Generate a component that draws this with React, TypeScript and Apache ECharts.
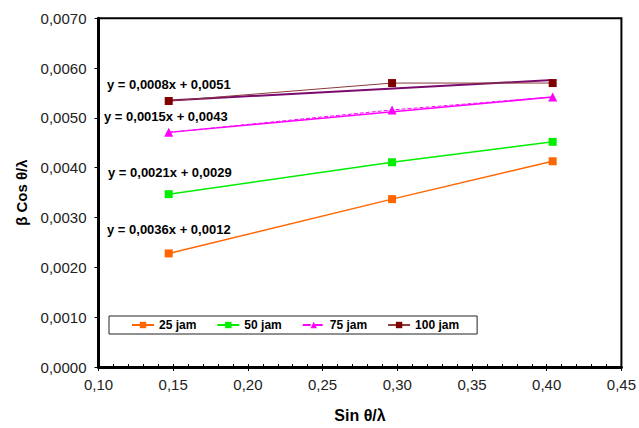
import React, { useEffect, useRef } from "react";
import * as echarts from "echarts";

const xValues = [0.147, 0.2965, 0.404];
const jam25 = [0.00228, 0.00337, 0.00413];
const jam50 = [0.00347, 0.00411, 0.00452];
const jam75 = [0.00471, 0.00516, 0.00542];
const jam100 = [0.00534, 0.0057, 0.0057];
const trendX = [0.147, 0.404];
const trend75 = [0.00471, 0.00542];
const trend100 = [0.00535, 0.00576];
const seriesNames = ["25 jam", "50 jam", "75 jam", "100 jam"];
const equations = [
  "y = 0,0008x + 0,0051",
  "y = 0,0015x + 0,0043",
  "y = 0,0021x + 0,0029",
  "y = 0,0036x + 0,0012",
];

const FONT = "'Liberation Sans', Arial, sans-serif";

function pairs(xs: number[], ys: number[]) {
  return ys.map((y, i) => [xs[i], y]);
}

export default function App() {
  const ref = useRef<HTMLDivElement>(null);
  useEffect(() => {
    if (!ref.current) return;
    const chart = echarts.init(ref.current, undefined, { renderer: "svg" });
    const eqPos = [
      [107, 86],
      [104, 118],
      [108, 174],
      [107, 231],
    ];
    const option: any = {
      animation: false,
      backgroundColor: "#fff",
      textStyle: { fontFamily: FONT },
      grid: {
        left: 98.5,
        right: 15.5,
        top: 18.3,
        bottom: 56.3,
        show: true,
        borderColor: "#000",
        borderWidth: 2,
      },
      legend: {
        left: 109,
        top: 316,
        orient: "horizontal",
        data: seriesNames,
        borderColor: "#222",
        borderWidth: 1,
        borderRadius: 0,
        padding: [3, 18, 3, 22],
        itemWidth: 22,
        itemHeight: 8,
        itemGap: 20,
        textStyle: { fontFamily: FONT, fontWeight: "bold", fontSize: 12, color: "#000" },
      },
      xAxis: [
        {
          type: "value",
          min: 0.1,
          max: 0.45,
          interval: 0.05,
          name: "Sin θ/λ",
          nameLocation: "middle",
          nameGap: 40,
          nameTextStyle: { fontFamily: FONT, fontWeight: "bold", fontSize: 16, color: "#000" },
          axisLine: { show: true, onZero: false, lineStyle: { color: "#000", width: 3 } },
          axisTick: { show: true, inside: false, length: 4, lineStyle: { color: "#000", width: 1 } },
          axisLabel: {
            fontFamily: FONT,
            fontSize: 15,
            color: "#222",
            margin: 10,
            formatter: (v: number) => v.toFixed(2).replace(".", ","),
          },
          splitLine: { show: false },
        },
        {
          type: "value",
          min: 0.1,
          max: 0.45,
          interval: 0.01,
          position: "bottom",
          axisLine: { show: false },
          axisTick: { show: true, inside: true, length: 3, lineStyle: { color: "#000", width: 1 } },
          axisLabel: { show: false },
          splitLine: { show: false },
        },
      ],
      yAxis: {
        type: "value",
        min: 0,
        max: 0.007,
        interval: 0.001,
        name: "β Cos θ/λ",
        nameLocation: "middle",
        nameRotate: 90,
        nameGap: 70,
        nameTextStyle: { fontFamily: FONT, fontWeight: "bold", fontSize: 15, color: "#000" },
        axisLine: { show: true, onZero: false, lineStyle: { color: "#000", width: 3 } },
        axisTick: { show: true, inside: false, length: 4, lineStyle: { color: "#000", width: 1 } },
        axisLabel: {
          fontFamily: FONT,
          fontSize: 15,
          color: "#222",
          margin: 12,
          formatter: (v: number) => v.toFixed(4).replace(".", ","),
        },
        splitLine: { show: false },
      },
      series: [
        {
          name: "75 jam trend",
          type: "line",
          data: pairs(trendX, trend75),
          symbol: "none",
          lineStyle: { color: "#ff00ff", width: 1.5 },
          z: 1,
        },
        {
          name: "100 jam trend",
          type: "line",
          data: pairs(trendX, trend100),
          symbol: "none",
          lineStyle: { color: "#7a0a6e", width: 2 },
          z: 1,
        },
        {
          name: seriesNames[0],
          type: "line",
          data: pairs(xValues, jam25),
          symbol: "rect",
          symbolSize: 8,
          itemStyle: { color: "#ff6600" },
          lineStyle: { color: "#ff6600", width: 1.5 },
          z: 3,
        },
        {
          name: seriesNames[1],
          type: "line",
          data: pairs(xValues, jam50),
          symbol: "rect",
          symbolSize: 8,
          itemStyle: { color: "#00ee00" },
          lineStyle: { color: "#00ee00", width: 1.5 },
          z: 3,
        },
        {
          name: seriesNames[2],
          type: "line",
          data: pairs(xValues, jam75),
          symbol: "triangle",
          symbolSize: 9,
          itemStyle: { color: "#ff00ff" },
          lineStyle: { color: "#ff00ff", width: 1, type: "dashed" },
          z: 3,
        },
        {
          name: seriesNames[3],
          type: "line",
          data: pairs(xValues, jam100),
          symbol: "rect",
          symbolSize: 8,
          itemStyle: { color: "#7f0000" },
          lineStyle: { color: "#8a3a3a", width: 1 },
          z: 3,
        },
      ],
      graphic: equations.map((t, i) => ({
        type: "text",
        left: eqPos[i][0],
        top: eqPos[i][1] - 8,
        style: {
          text: t,
          fontFamily: FONT,
          fontWeight: "bold",
          fontSize: 13,
          fill: "#000",
        },
        z: 10,
      })),
    };
    chart.setOption(option);
    return () => chart.dispose();
  }, []);
  return (
    <div
      ref={ref}
      style={{ position: "absolute", left: 0, top: 0, width: 639, height: 428 }}
    />
  );
}
